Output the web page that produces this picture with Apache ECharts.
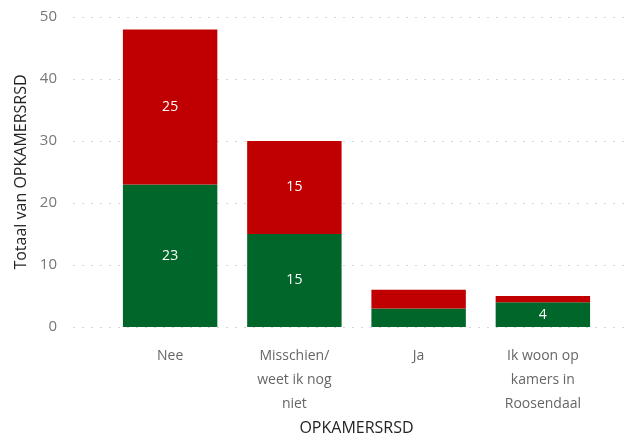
<!DOCTYPE html>
<html lang="nl">
<head>
    <meta charset="UTF-8">
    <title>OPKAMERSRSD</title>
    <script src="https://cdn.jsdelivr.net/npm/echarts@6/dist/echarts.min.js"></script>
    <style>
        body { margin: 0; background: #fff; }
        #chart { width: 631px; height: 436px; }
    </style>
</head>
<body>
    <div id="chart"></div>
    <script>
        // categorieën en waarden (groen = onder, rood = boven)
        const categories = ['Nee', 'Misschien/\nweet ik nog\nniet', 'Ja', 'Ik woon op\nkamers in\nRoosendaal'];
        const greenValues = [23, 15, 3, 4];
        const redValues = [25, 15, 3, 1];
        const yTicks = [0, 10, 20, 30, 40, 50];

        const chart = echarts.init(document.getElementById('chart'));
        const font = 'Open Sans, DejaVu Sans, sans-serif';

        const labelStyle = {
            show: true,
            position: 'inside',
            color: '#fff',
            fontSize: 14,
            fontFamily: font,
            formatter: p => p.value >= 4 ? p.value : ''
        };

        chart.setOption({
            animation: false,
            grid: [
                // raster met de staven
                { left: 108, right: 26, top: 17, bottom: 109, outerBoundsMode: 'none', containLabel: false },
                // breder raster, alleen voor de stippellijnen en y-as
                { left: 73, right: 6, top: 17, bottom: 109, outerBoundsMode: 'none', containLabel: false }
            ],
            xAxis: [
                {
                    type: 'category',
                    gridIndex: 0,
                    data: categories,
                    axisLine: { show: false },
                    axisTick: { show: false },
                    axisLabel: {
                        interval: 0,
                        color: '#666',
                        fontSize: 14,
                        fontFamily: font,
                        lineHeight: 24,
                        margin: 17
                    },
                    name: 'OPKAMERSRSD',
                    nameLocation: 'middle',
                    nameGap: 92,
                    nameTextStyle: { color: '#252423', fontSize: 16, fontFamily: font }
                },
                { type: 'category', gridIndex: 1, data: categories, show: false }
            ],
            yAxis: [
                {
                    type: 'value',
                    gridIndex: 0,
                    min: yTicks[0],
                    max: yTicks[yTicks.length - 1],
                    interval: 10,
                    show: false
                },
                {
                    type: 'value',
                    gridIndex: 1,
                    min: yTicks[0],
                    max: yTicks[yTicks.length - 1],
                    interval: 10,
                    axisLine: { show: false },
                    axisTick: { show: false },
                    axisLabel: { color: '#777', fontSize: 15, fontFamily: font, margin: 16 },
                    splitLine: { lineStyle: { color: '#d6d6d6', type: [2, 7], width: 1 } },
                    name: 'Totaal van OPKAMERSRSD',
                    nameLocation: 'middle',
                    nameGap: 44,
                    nameTextStyle: { color: '#252423', fontSize: 16, fontFamily: font }
                }
            ],
            series: [
                {
                    type: 'bar',
                    stack: 'tot',
                    xAxisIndex: 0,
                    yAxisIndex: 0,
                    data: greenValues,
                    barCategoryGap: '24%',
                    itemStyle: { color: '#006629' },
                    label: labelStyle,
                    z: 3
                },
                {
                    type: 'bar',
                    stack: 'tot',
                    xAxisIndex: 0,
                    yAxisIndex: 0,
                    data: redValues,
                    barCategoryGap: '24%',
                    itemStyle: { color: '#C00000' },
                    label: labelStyle,
                    z: 3
                }
            ]
        });
    </script>
</body>
</html>
